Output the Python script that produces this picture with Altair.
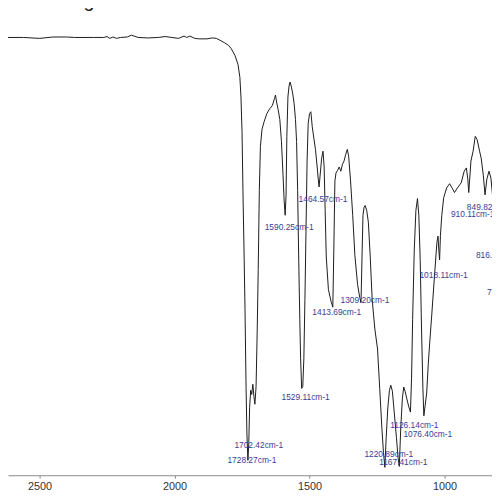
import altair as alt
import pandas as pd

# IR spectrum trace: wavenumber (cm-1) and transmittance (%T, approximate)
wavenumber = [
    2617, 2560, 2500, 2450, 2400, 2370, 2300, 2262, 2250, 2240, 2228, 2215, 2200, 2175,
    2160, 2150, 2135, 2100, 2060, 2035, 2010, 1985, 1965, 1955, 1943, 1925, 1910, 1880,
    1860, 1845, 1835, 1816, 1800, 1790, 1776, 1765, 1758, 1754, 1750, 1746, 1742, 1739,
    1735, 1732, 1728.27, 1725, 1722, 1718, 1714, 1710, 1706, 1702.42, 1698, 1694, 1690,
    1686, 1682, 1676, 1668, 1658, 1648, 1638, 1630, 1626, 1622, 1616, 1610, 1604, 1598,
    1594, 1590.25, 1587, 1584, 1580, 1576, 1572, 1567, 1562, 1557, 1552, 1548, 1544,
    1540, 1536, 1533, 1529.11, 1525, 1521, 1517, 1513, 1509, 1505, 1500, 1495, 1490,
    1484, 1478, 1472, 1468, 1464.57, 1460, 1455, 1450, 1446, 1442, 1438, 1430, 1420,
    1413.69, 1410, 1406, 1402, 1396, 1390, 1384, 1378, 1372, 1366, 1360, 1355, 1348,
    1340, 1332, 1322, 1314, 1309.20, 1305, 1302, 1298, 1294, 1288, 1282, 1275, 1268,
    1258, 1248, 1240, 1232, 1226, 1220.89, 1216, 1210, 1204, 1199, 1193, 1186, 1178,
    1172, 1167.41, 1162, 1156, 1151, 1146, 1140, 1133, 1126.14, 1122, 1118, 1112, 1106,
    1100, 1095, 1090, 1085, 1080, 1076.40, 1072, 1066, 1060, 1055, 1047, 1036, 1028,
    1024, 1021, 1018.11, 1015, 1010, 1003, 992, 981, 970, 963, 952, 938, 927, 919, 914,
    910.11, 902, 894, 886, 879, 870, 864, 856, 849.82, 843, 835, 828, 820, 812,
]
transmittance = [
    94.3, 94.3, 94.1, 94.4, 94.4, 94.3, 94.3, 94.3, 94.5, 94.1, 94.4, 94.1, 94.3, 94.4,
    94.8, 94.6, 94.3, 94.2, 94.3, 94.5, 94.3, 94.1, 94.6, 94.3, 94.6, 94.1, 94.0, 94.0,
    94.2, 94.1, 93.8, 93.2, 92.6, 91.9, 90.4, 88.5, 85.7, 81.5, 74.0, 59.1, 46.4, 35.7,
    18.7, 9.1, 3.2, 7.0, 14.5, 18.3, 17.4, 19.6, 17.0, 15.3, 19.1, 30.4, 44.3,
    61.3, 70.8, 74.5, 76.2, 77.9, 78.9, 79.6, 81.1, 81.9, 80.4, 78.7, 76.6, 71.9, 64.5,
    59.1, 56.0, 60.2, 73.0, 81.5, 83.8, 84.7, 83.6, 82.1, 80.0, 76.6, 71.9, 61.3,
    46.4, 33.6, 25.1, 18.7, 19.1, 25.1, 37.9, 52.8, 67.7, 75.7, 77.9, 78.3, 75.1,
    72.6, 70.2, 66.6, 64.0, 62.1, 65.1, 68.3, 69.8, 66.6, 57.0, 47.0, 40.0, 37.4,
    36.2, 48.5, 63.4, 65.1, 65.7, 66.4, 65.5, 67.0, 67.7, 69.1, 70.2, 68.7, 63.4,
    56.0, 47.4, 41.1, 38.3, 37.2, 48.5, 56.0, 57.7, 58.1, 57.0, 54.5, 47.0, 37.9,
    31.5, 27.2, 18.7, 10.2, 4.9, 1.7, 8.1, 14.5, 18.3, 19.4, 18.1, 13.4, 8.1,
    3.8, 1.9, 10.2, 16.6, 19.0, 18.1, 16.6, 14.9, 13.6, 20.9, 33.6, 48.5, 57.0,
    59.6, 55.9, 46.4, 31.5, 18.7, 12.8, 14.9, 17.7, 24.0, 28.3, 34.7, 43.8, 50.2,
    51.5, 48.5, 46.4, 51.7, 56.0, 59.8, 61.9, 62.8, 61.7, 60.9, 61.9, 63.0, 65.5, 66.2, 64.0,
    60.9, 67.7, 69.8, 73.0, 72.3, 69.8, 68.3, 64.5, 60.4, 63.8, 65.5, 64.0, 59.1, 51.1,
]

# Peak annotations
peak_text = [
    "1728.27cm-1", "1702.42cm-1", "1590.25cm-1", "1529.11cm-1", "1464.57cm-1",
    "1413.69cm-1", "1309.20cm-1", "1220.89cm-1", "1167.41cm-1", "1126.14cm-1",
    "1076.40cm-1", "1018.11cm-1", "910.11cm-1", "849.82cm-1", "816.43cm-1", "775.26cm-1",
]
peak_wn = [1728.27, 1702.42, 1590.25, 1529.11, 1464.57, 1413.69, 1309.20, 1220.89,
           1167.41, 1126.14, 1076.40, 1018.11, 910.11, 849.82, 816.43, 775.26]
peak_label_T = [3.2, 6.6, 53.4, 16.8, 59.4, 35.1, 37.7, 4.5, 2.8, 10.9, 8.9, 43.2,
                56.2, 57.7, 47.4, 39.4]

tick_values = [2500, 2000, 1500, 1000]
fig_title = ["Fig.2"]

spec = pd.DataFrame({"wn": wavenumber, "T": transmittance}).reset_index()
peaks = pd.DataFrame({"wn": peak_wn, "T": peak_label_T, "label": peak_text})
figdf = pd.DataFrame({"t": fig_title})

xscale = alt.Scale(domain=[824, 2617], reverse=True, nice=False, zero=False)
yscale = alt.Scale(domain=[0, 100], nice=False, zero=False)

line = alt.Chart(spec).mark_line(color="#1a1a1a", strokeWidth=1, clip=True).encode(
    x=alt.X("wn:Q", scale=xscale,
            axis=alt.Axis(values=tick_values, title=None, grid=False, format="d")),
    y=alt.Y("T:Q", scale=yscale, axis=None),
    order="index:Q",
)

labels = alt.Chart(peaks).mark_text(
    dx=4, align="center", baseline="middle", fontSize=8.5,
    font="Liberation Sans", color="#3c3c96",
).encode(
    x=alt.X("wn:Q", scale=xscale),
    y=alt.Y("T:Q", scale=yscale),
    text="label:N",
)

title = alt.Chart(figdf).mark_text(
    align="center", baseline="alphabetic", fontSize=20,
    font="Liberation Sans", color="#222",
).encode(x=alt.value(82), y=alt.value(-4), text="t:N")

chart = alt.layer(line, labels, title).properties(
    width=490, height=470,
    autosize=alt.AutoSizeParams(type="none"),
    padding={"left": 0, "top": 0, "right": 0, "bottom": 20},
).configure_view(stroke=None).configure_axis(
    domainColor="#8a8a8a", tickColor="#8a8a8a", labelColor="#333333",
    labelFont="Liberation Sans", labelFontSize=11, tickSize=3, labelPadding=2,
    domainWidth=1,
)

chart.save("out.html", embed_options={"renderer": "svg", "actions": False})
